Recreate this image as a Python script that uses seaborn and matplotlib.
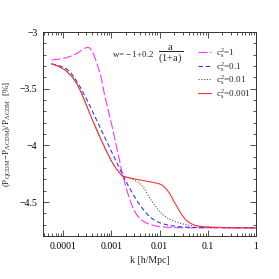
import numpy as np
import pandas as pd
import seaborn as sns
import matplotlib
matplotlib.use('Agg')
import matplotlib.pyplot as plt
from matplotlib.ticker import FixedLocator, MultipleLocator, LogLocator, NullFormatter

sns.set_style('ticks')
plt.rcParams['font.family'] = ['Liberation Serif', 'DejaVu Serif']
plt.rcParams['mathtext.fontset'] = 'custom'
plt.rcParams['mathtext.rm'] = 'Liberation Serif'
plt.rcParams['mathtext.it'] = 'Liberation Serif:italic'

# log10(k) and (P_QCDM - P_LCDM)/P_LCDM values
logk_1 = [-4.235, -4.1, -3.95, -3.85, -3.75, -3.65, -3.58, -3.53, -3.49, -3.45,
          -3.41, -3.37, -3.33, -3.28, -3.22, -3.15, -3.08, -3.0, -2.92, -2.84,
          -2.78, -2.72, -2.66, -2.6, -2.54, -2.47, -2.4, -2.3, -2.2, -2.05,
          -1.85, -1.6, 0.0]
val_1 = [-3.246, -3.240, -3.228, -3.215, -3.197, -3.172, -3.152, -3.139, -3.134,
         -3.140, -3.158, -3.19, -3.235, -3.30, -3.38, -3.53, -3.66, -3.80, -3.955,
         -4.11, -4.23, -4.33, -4.42, -4.50, -4.56, -4.615, -4.65, -4.68, -4.698,
         -4.714, -4.723, -4.727, -4.728]

logk_01 = [-4.235, -4.1, -3.95, -3.85, -3.75, -3.65, -3.55, -3.45, -3.35, -3.25,
           -3.15, -3.05, -2.95, -2.85, -2.75, -2.65, -2.55, -2.45, -2.35, -2.25,
           -2.15, -2.05, -1.95, -1.8, -1.6, -1.3, 0.0]
val_01 = [-3.281, -3.294, -3.318, -3.352, -3.41, -3.48, -3.56, -3.645, -3.735,
          -3.825, -3.915, -4.005, -4.095, -4.185, -4.272, -4.355, -4.43, -4.50,
          -4.56, -4.61, -4.648, -4.673, -4.69, -4.706, -4.718, -4.725, -4.728]

logk_001 = [-4.235, -4.1, -3.95, -3.8, -3.7, -3.6, -3.5, -3.4, -3.3, -3.2, -3.1,
            -3.0, -2.9, -2.777, -2.673, -2.569, -2.465, -2.4, -2.36, -2.3, -2.25,
            -2.1875, -2.104, -2.015, -1.917, -1.806, -1.667, -1.527, -1.39, -1.25,
            -0.94, 0.0]
val_001 = [-3.281, -3.30, -3.335, -3.40, -3.465, -3.555, -3.66, -3.765, -3.865,
           -3.96, -4.05, -4.135, -4.205, -4.269, -4.281, -4.296, -4.32, -4.34,
           -4.357, -4.39, -4.43, -4.474, -4.526, -4.576, -4.618, -4.649, -4.675,
           -4.693, -4.705, -4.712, -4.722, -4.728]

logk_0001 = [-4.235, -4.1, -3.95, -3.8, -3.7, -3.6, -3.5, -3.4, -3.3, -3.2, -3.1,
             -3.0, -2.9, -2.777, -2.646, -2.5, -2.333, -2.152, -2.015, -1.96,
             -1.917, -1.86, -1.806, -1.75, -1.708, -1.667, -1.625, -1.598, -1.55,
             -1.5, -1.45, -1.39, -1.3, -1.2, -1.11, -0.833, -0.52, 0.0]
val_0001 = [-3.281, -3.30, -3.335, -3.40, -3.465, -3.555, -3.66, -3.765, -3.865,
            -3.96, -4.05, -4.135, -4.205, -4.269, -4.285, -4.298, -4.311, -4.325,
            -4.338, -4.347, -4.36, -4.385, -4.415, -4.455, -4.49, -4.52, -4.55,
            -4.57, -4.605, -4.635, -4.66, -4.68, -4.70, -4.712, -4.718, -4.724,
            -4.727, -4.728]

labels = [r'$\mathregular{c_s^2\!=\!1}$', r'$\mathregular{c_s^2\!=\!0.1}$',
          r'$\mathregular{c_s^2\!=\!0.01}$', r'$\mathregular{c_s^2\!=\!0.001}$']

fig = plt.figure(figsize=(2.79, 2.79), dpi=100)
ax = fig.add_axes([0.154, 0.154, 0.764, 0.731])

series = [
    (logk_1, val_1, '#ff33ff', (0, (8, 2.5))),
    (logk_01, val_01, '#3333ff', (0, (4, 2.5))),
    (logk_001, val_001, '#555555', (0, (1, 1.5))),
    (logk_0001, val_0001, '#ff3333', '-'),
]
for (lk, v, c, ls), lab in zip(series, labels):
    df = pd.DataFrame({'k': 10 ** np.array(lk), 'v': v})
    sns.lineplot(data=df, x='k', y='v', ax=ax, color=c, linestyle=ls,
                 linewidth=0.8, label=lab)

ax.set_xscale('log')
ax.set_xlim(3.85e-5, 1.0)
ax.set_ylim(-4.8, -3.0)

ax.xaxis.set_major_locator(FixedLocator([1e-4, 1e-3, 1e-2, 1e-1, 1]))
ax.set_xticklabels(['0.0001', '0.001', '0.01', '0.1', '1'])
ax.xaxis.set_minor_locator(LogLocator(base=10, subs=np.arange(2, 10)))
ax.xaxis.set_minor_formatter(NullFormatter())
ax.yaxis.set_minor_locator(MultipleLocator(0.1))
ax.set_yticks([-4.5, -4.0, -3.5, -3.0])
ax.set_yticklabels(['\u22124.5', '\u22124', '\u22123.5', '\u22123'])

ax.tick_params(which='both', direction='in', top=True, right=True,
               labelsize=7, width=0.6, colors='#333333', labelcolor='black')
ax.tick_params(which='major', length=4, pad=4)
ax.tick_params(which='minor', length=2)
for s in ax.spines.values():
    s.set_linewidth(0.7)
    s.set_color('#333333')

ax.set_xlabel('k [h/Mpc]', fontsize=7, labelpad=4)
ax.set_ylabel(r'$\mathregular{(P_{QCDM}\!-\!P_{\Lambda CDM})/P_{\Lambda CDM}}$  [%]',
              fontsize=6.5, labelpad=5)

fig.text(112 / 279, 1 - 54 / 279, r'$\mathregular{w\!=\!-1\!+\!0.2}$',
         fontsize=6.5, va='center', ha='left')
fig.text(171 / 279, 1 - 54 / 279, r'$\mathregular{\dfrac{a}{(1\!+\!a)}}$',
         fontsize=7.5, va='center', ha='center')

leg = ax.legend(loc='upper left', bbox_to_anchor=(155 / 213, 0.93), frameon=False,
                fontsize=6.5, handlelength=1.4, handletextpad=0.6,
                labelspacing=0.05, borderaxespad=0.0, borderpad=0.0)

fig.savefig('out.png', dpi=100)
